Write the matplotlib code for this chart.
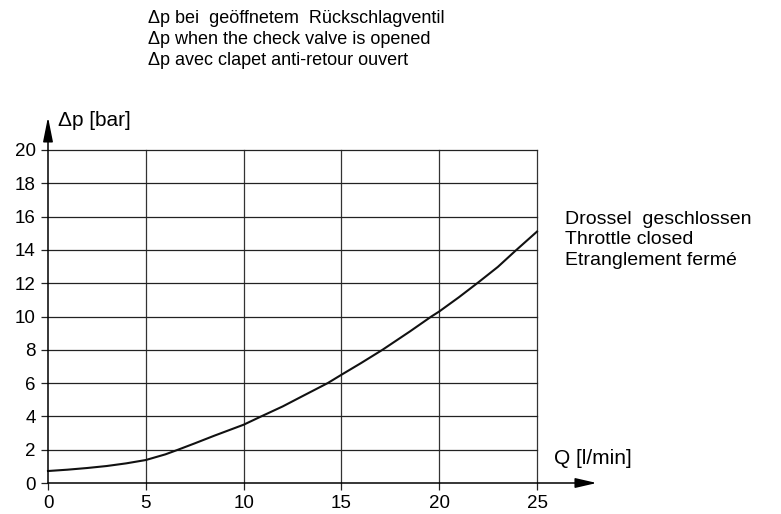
import matplotlib
matplotlib.use("Agg")
import matplotlib.pyplot as plt

plt.rcParams['font.family'] = ['Liberation Sans', 'DejaVu Sans']

# values
q_values = [0, 1, 2, 3, 4, 5, 6, 6.65, 7.5, 8.5, 9.5, 10, 10.9, 12, 12.9, 14.3, 15, 16, 17.1, 18.5, 19.6, 20, 21, 22, 23, 23.9, 25]
dp_values = [0.72, 0.8, 0.9, 1.02, 1.18, 1.38, 1.72, 2.0, 2.38, 2.84, 3.28, 3.5, 4.0, 4.6, 5.15, 6.0, 6.5, 7.2, 8.0, 9.1, 10.0, 10.3, 11.15, 12.05, 12.98, 13.95, 15.1]

x_ticks = [0, 5, 10, 15, 20, 25]
y_ticks = [0, 2, 4, 6, 8, 10, 12, 14, 16, 18, 20]

top_lines = ["Δp bei  geöffnetem  Rückschlagventil",
             "Δp when the check valve is opened",
             "Δp avec clapet anti-retour ouvert"]
curve_lines = ["Drossel  geschlossen", "Throttle closed", "Etranglement fermé"]

fig = plt.figure(figsize=(7.81, 5.14), dpi=100)
ax = fig.add_axes([48 / 781, 31 / 514, 489 / 781, 333 / 514])
ax.set_xlim(0, 25)
ax.set_ylim(0, 20)

for s in ax.spines.values():
    s.set_visible(False)

# grid
for x in x_ticks[1:]:
    ax.plot([x, x], [0, 20], color='#333333', lw=0.9, clip_on=False)
for y in y_ticks[1:]:
    ax.plot([0, 25], [y, y], color='#222222', lw=0.9, clip_on=False)

# axes with arrows
ax.annotate('', xy=(28.05, 0), xytext=(0, 0),
            arrowprops=dict(arrowstyle='-|>,head_length=1.3,head_width=0.3', color='black', lw=1.1,
                            shrinkA=0, shrinkB=0), annotation_clip=False)
ax.annotate('', xy=(0, 21.98), xytext=(0, 0),
            arrowprops=dict(arrowstyle='-|>,head_length=1.5,head_width=0.3', color='black', lw=1.1,
                            shrinkA=0, shrinkB=0), annotation_clip=False)

ax.plot(q_values, dp_values, color='#111111', lw=1.5, clip_on=False)

ax.set_xticks(x_ticks)
ax.set_yticks(y_ticks)
ax.tick_params(axis='both', direction='out', length=5, width=0.9, color='#222222',
               labelsize=13.5, pad=4)

ax.text(0.5, 21.75, 'Δp [bar]', fontsize=15, va='center', ha='left')
ax.text(25.87, 1.45, 'Q [l/min]', fontsize=15, va='center', ha='left')
ax.text(26.43, 16.35, '\n'.join(curve_lines), fontsize=14, va='top', ha='left', linespacing=1.28)

fig.text(148 / 781, 1 - 10 / 514, '\n'.join(top_lines), fontsize=13, va='top', ha='left',
         linespacing=1.32)

fig.savefig('out.png', dpi=100)
